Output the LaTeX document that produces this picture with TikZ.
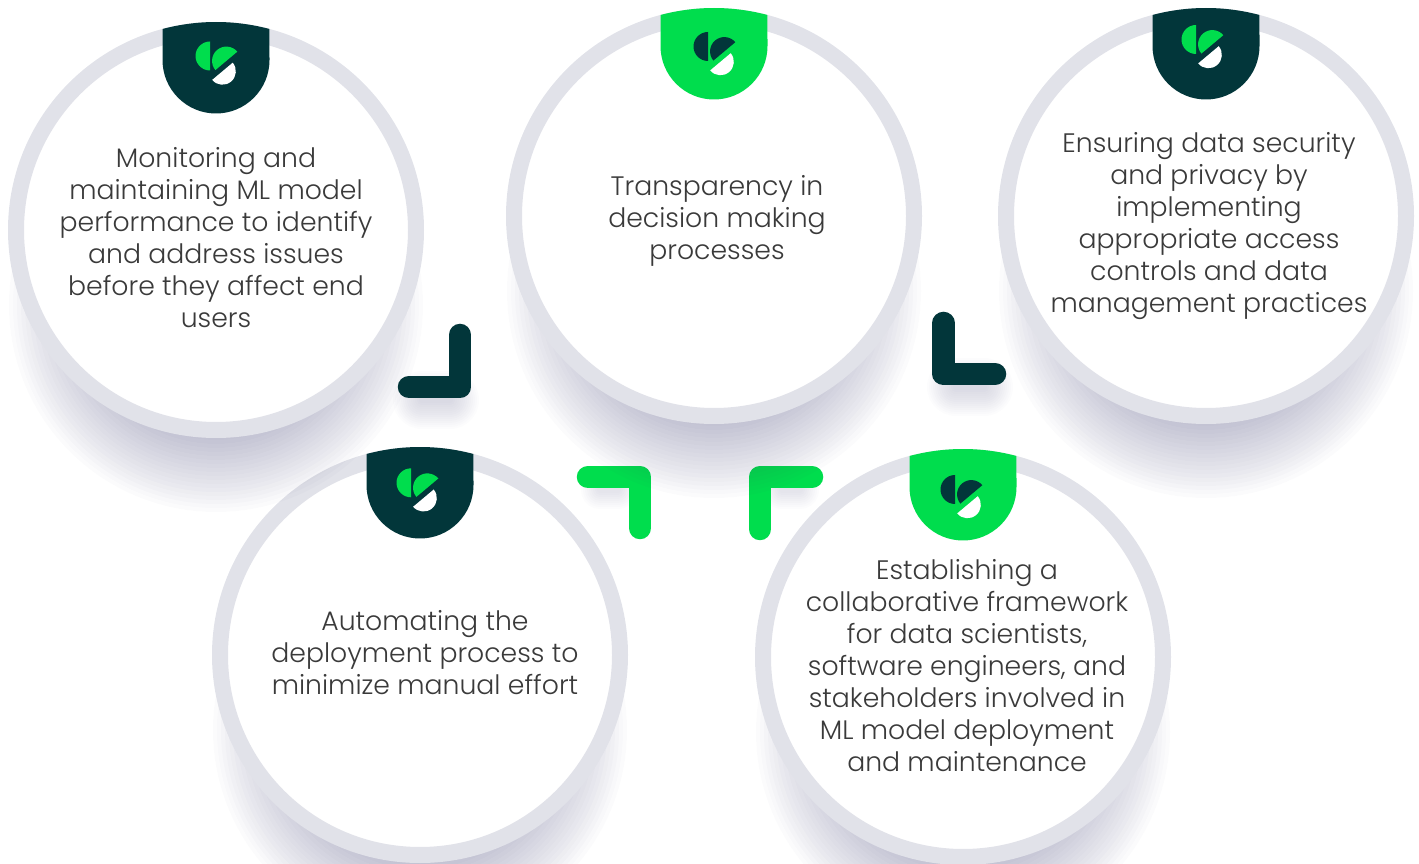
\documentclass[tikz,border=0pt]{standalone}
\usepackage{fontspec}
\setmainfont{Poppins}[UprightFont=* Light]
\usetikzlibrary{positioning}

\definecolor{pine}{HTML}{02363A}
\definecolor{leaf}{HTML}{00DD4D}
\definecolor{ringgray}{HTML}{E1E2E9}
\definecolor{bodytext}{HTML}{3A3A3A}
\definecolor{dusk}{HTML}{434375}

\tikzset{
  ring/.style = {circle, draw = ringgray, fill = white, line width = 16pt,
    minimum size = 400pt, inner sep = 0pt},
  caption/.style = {text = bodytext, align = center,
    font = \fontsize{26.7}{32}\selectfont},
  corner/.style = {line width = 22.5pt, line cap = round, line join = round},
  haze/.style = {fill = dusk, opacity = 0.02},
  smear/.style = {draw = dusk, opacity = 0.014, line cap = round},
  pics/badge/.style = {code = {
    \fill[#1] (-53.5,201) arc (104.9:75.1:208) -- (53.5,170)
      arc (0:-180:53.5) -- cycle;
  }},
  pics/glyph/.style = {code = {
    \fill[#1] (-6,188.5) arc (90:270:14.5) -- cycle;
    \fill[#1] (21.3,178.3) arc (40:220:14.3) -- cycle;
    \fill[white] (16.7,167.3) arc (40:-140:13.4) -- cycle;
  }}
}

\begin{document}
\begin{tikzpicture}[x = 1pt, y = 1pt]
  \useasboundingbox (0,0) rectangle (1419,863);

  % lower row first, the shadows of the upper row fall on it
  \foreach \r in {135,139,...,207} {
    \fill[haze] (420,133) circle (\r);
    \fill[haze] (963,131) circle (\r);
  }
  \node[ring] (Deploy) at (420,208) {};
  \node[ring] (Team) at (963,206) {};
  \pic at (Deploy) {badge = pine};
  \pic[xshift = -3pt, yshift = -1.8pt] at (Deploy) {glyph = leaf};
  \pic at (Team) {badge = leaf};
  \pic[xshift = -2pt, yshift = -6.5pt] at (Team) {glyph = pine};
  \node[caption] at (425,210) {Automating the\\deployment process to\\minimize manual effort};
  \node[caption] at (967,197) {Establishing a\\collaborative framework\\for data scientists,\\software engineers, and\\stakeholders involved in\\ML model deployment\\and maintenance};

  \foreach \w in {6,10,...,38} {
    \draw[smear, line width = \w pt] (600,373) -- (618,373);
    \draw[smear, line width = \w pt] (782,373) -- (800,373);
  }
  \draw[corner, leaf] (588,386) -- (640,386) -- (640,335);
  \draw[corner, leaf] (760,334) -- (760,386) -- (812,386);

  % upper row
  \foreach \r in {135,139,...,207} {
    \fill[haze] (216,558) circle (\r);
    \fill[haze] (714,572) circle (\r);
    \fill[haze] (1206,572) circle (\r);
  }
  \node[ring] (Monitor) at (216,633) {};
  \node[ring] (Clarity) at (714,647) {};
  \node[ring] (Secure) at (1206,647) {};
  \pic at (Monitor) {badge = pine};
  \pic at (Monitor) {glyph = leaf};
  \pic at (Clarity) {badge = leaf};
  \pic[yshift = -4.5pt] at (Clarity) {glyph = pine};
  \pic at (Secure) {badge = pine};
  \pic[xshift = -4pt, yshift = 2.5pt] at (Secure) {glyph = leaf};
  \node[caption] at (216,625) {Monitoring and\\maintaining ML model\\performance to identify\\and address issues\\before they affect end\\users};
  \node[caption] at (717,642) {Transparency in\\decision making\\processes};
  \node[caption] at (1209,636.5) {Ensuring data security\\and privacy by\\implementing\\appropriate access\\controls and data\\management practices};

  \foreach \w in {6,10,...,58} {
    \draw[smear, line width = \w pt] (422,463) -- (450,463);
    \draw[smear, line width = \w pt] (956,476) -- (984,476);
  }
  \draw[corner, pine] (409,476) -- (460,476) -- (460,528);
  \draw[corner, pine] (943.5,540) -- (943.5,489) -- (995,489);
\end{tikzpicture}
\end{document}
